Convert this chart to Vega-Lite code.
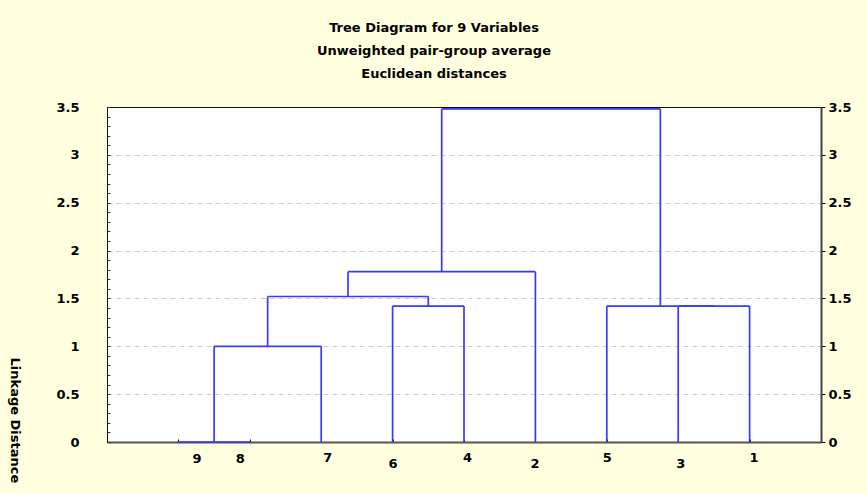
{
  "$schema": "https://vega.github.io/schema/vega-lite/v6.json",
  "width": 714,
  "height": 335,
  "autosize": "none",
  "padding": {"left": 107, "top": 107, "right": 46, "bottom": 51},
  "background": "#ffffe0",
  "config": {
    "font": "DejaVu Sans",
    "view": {"fill": "white", "stroke": "#111", "strokeWidth": 1},
    "axis": {"labelFont": "DejaVu Sans", "labelFontWeight": "bold", "labelFontSize": 13, "labelColor": "#000", "titleFont": "DejaVu Sans"}
  },
  "title": {
    "text": ["Tree Diagram for 9 Variables", "Unweighted pair-group average", "Euclidean distances"],
    "font": "DejaVu Sans",
    "fontSize": 13,
    "fontWeight": "bold",
    "color": "#000",
    "lineHeight": 23,
    "anchor": "middle",
    "frame": "group",
    "dx": -30,
    "baseline": "bottom",
    "offset": 7
  },
  "data": {
    "values": [
      {"x": 1, "x2": 2, "y": 0, "y2": 0},
      {"x": 1.5, "x2": 1.5, "y": 0, "y2": 1.0},
      {"x": 3, "x2": 3, "y": 0, "y2": 1.0},
      {"x": 1.5, "x2": 3, "y": 1.0, "y2": 1.0},
      {"x": 4, "x2": 4, "y": 0, "y2": 1.42},
      {"x": 5, "x2": 5, "y": 0, "y2": 1.42},
      {"x": 4, "x2": 5, "y": 1.42, "y2": 1.42},
      {"x": 2.25, "x2": 2.25, "y": 1.0, "y2": 1.52},
      {"x": 4.5, "x2": 4.5, "y": 1.42, "y2": 1.52},
      {"x": 2.25, "x2": 4.5, "y": 1.52, "y2": 1.52},
      {"x": 3.375, "x2": 3.375, "y": 1.52, "y2": 1.78},
      {"x": 6, "x2": 6, "y": 0, "y2": 1.78},
      {"x": 3.375, "x2": 6, "y": 1.78, "y2": 1.78},
      {"x": 8, "x2": 8, "y": 0, "y2": 1.42},
      {"x": 9, "x2": 9, "y": 0, "y2": 1.42},
      {"x": 8, "x2": 9, "y": 1.42, "y2": 1.42},
      {"x": 7, "x2": 7, "y": 0, "y2": 1.42},
      {"x": 7, "x2": 8.5, "y": 1.42, "y2": 1.42},
      {"x": 4.6875, "x2": 4.6875, "y": 1.78, "y2": 3.48},
      {"x": 7.75, "x2": 7.75, "y": 1.42, "y2": 3.48},
      {"x": 4.6875, "x2": 7.75, "y": 3.48, "y2": 3.48}
    ]
  },
  "layer": [
    {
      "mark": {"type": "rule", "strokeOpacity": 0},
      "encoding": {
        "x": {
          "field": "x", "type": "quantitative",
          "scale": {"domain": [0, 10], "nice": false, "zero": false},
          "axis": {
            "title": null,
            "values": [1, 2, 3, 4, 5, 6, 7, 8, 9],
            "labelExpr": "['','9','8','7','6','4','2','5','3','1',''][datum.value]",
            "grid": false,
            "domainColor": "#555",
            "domainWidth": 2,
            "tickColor": "#000",
            "tickSize": -3,
            "labelBaseline": "top",
            "labelOffset": {"expr": "[0,18,-10,6,0,3,-1,0,2,4,0][datum.value]"},
            "labelPadding": {"expr": "[12,13,13,12,18,12,18,12,18,12,12][datum.value]"}
          }
        },
        "x2": {"field": "x2"},
        "y": {
          "field": "y", "type": "quantitative",
          "scale": {"domain": [0, 3.5], "nice": false},
          "axis": {
            "orient": "left",
            "title": "Linkage Distance",
            "titleAngle": 90,
            "titleAlign": "left",
            "titleBaseline": "middle",
            "titleX": -93,
            "titleY": 250,
            "titleFontSize": 13,
            "titleFontWeight": "bold",
            "titleColor": "#000",
            "values": [0, 0.1, 0.2, 0.3, 0.4, 0.5, 0.6, 0.7, 0.8, 0.9, 1, 1.1, 1.2, 1.3, 1.4, 1.5, 1.6, 1.7, 1.8, 1.9, 2, 2.1, 2.2, 2.3, 2.4, 2.5, 2.6, 2.7, 2.8, 2.9, 3, 3.1, 3.2, 3.3, 3.4, 3.5],
            "labelExpr": "abs(datum.value*2 - round(datum.value*2)) < 0.001 ? format(datum.value, '~g') : ''",
            "grid": true,
            "gridColor": "#cccccc",
            "gridDash": [5, 4],
            "gridOpacity": {"condition": {"test": "abs(datum.value*2 - round(datum.value*2)) < 0.001 && datum.value > 0.01 && datum.value < 3.49", "value": 1}, "value": 0},
            "domainColor": "#111",
            "tickColor": "#333",
            "tickSize": -3,
            "labelPadding": 31
          }
        },
        "y2": {"field": "y2"}
      }
    },
    {
      "mark": {"type": "rule", "color": "#3838ff", "strokeWidth": 1.7},
      "encoding": {
        "x": {"field": "x", "type": "quantitative", "scale": {"domain": [0, 10], "nice": false, "zero": false}},
        "x2": {"field": "x2"},
        "y": {
          "field": "y", "type": "quantitative",
          "scale": {"domain": [0, 3.5], "nice": false},
          "axis": {
            "orient": "right",
            "title": null,
            "values": [0, 0.5, 1, 1.5, 2, 2.5, 3, 3.5],
            "labelExpr": "format(datum.value, '~g')",
            "grid": false,
            "domainColor": "#444",
            "domainWidth": 2,
            "tickColor": "#000",
            "tickSize": 4,
            "labelPadding": 3
          }
        },
        "y2": {"field": "y2"}
      }
    }
  ],
  "resolve": {"axis": {"y": "independent"}}
}
